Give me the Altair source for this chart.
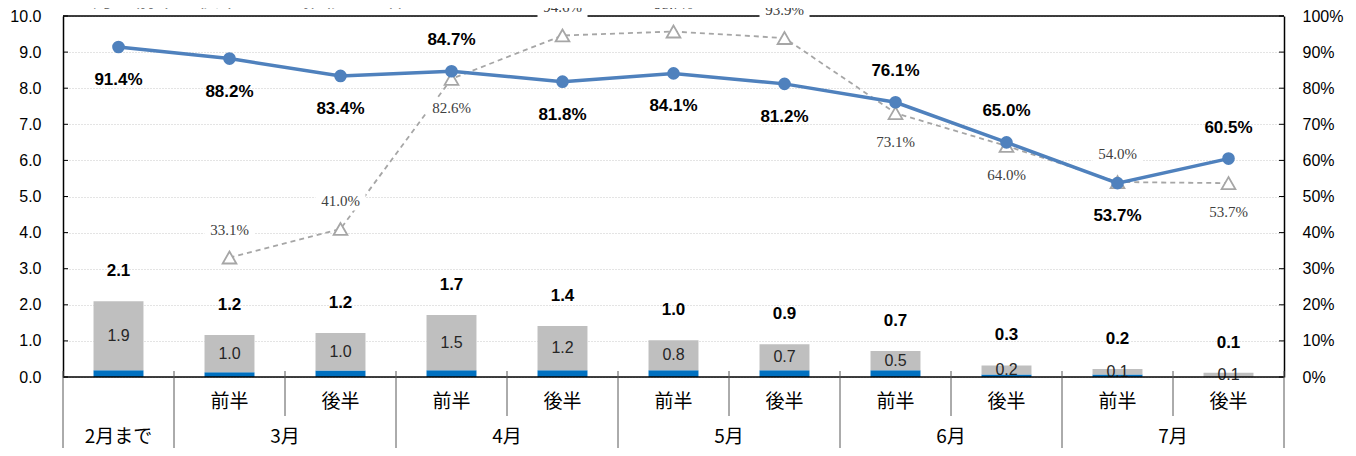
import altair as alt
import pandas as pd

# ---------------- data ----------------
categories = ["", "前半", "後半", "前半", "後半", "前半", "後半", "前半", "後半", "前半", "後半"]
months = ["2月まで", "3月", "3月", "4月", "4月", "5月", "5月", "6月", "6月", "7月", "7月"]
blue_bar = [0.19, 0.13, 0.18, 0.19, 0.19, 0.19, 0.19, 0.19, 0.07, 0.07, 0.0]
grey_bar = [1.91, 1.03, 1.04, 1.53, 1.22, 0.83, 0.72, 0.53, 0.25, 0.15, 0.12]
grey_labels = [1.9, 1.0, 1.0, 1.5, 1.2, 0.8, 0.7, 0.5, 0.2, 0.1, 0.1]
total_labels = [2.1, 1.2, 1.2, 1.7, 1.4, 1.0, 0.9, 0.7, 0.3, 0.2, 0.1]
blue_pct = [91.4, 88.2, 83.4, 84.7, 81.8, 84.1, 81.2, 76.1, 65.0, 53.7, 60.5]
blue_side = ["below", "below", "below", "above", "below", "below", "below", "above", "above", "below", "above"]
grey_pct = [None, 33.1, 41.0, 82.6, 94.6, 95.7, 93.9, 73.1, 64.0, 54.0, 53.7]
grey_side = [None, "above", "above", "below", "above", "above", "above", "below", "below", "above", "below"]
left_ticks = [0, 1, 2, 3, 4, 5, 6, 7, 8, 9, 10]
right_ticks = [0, 10, 20, 30, 40, 50, 60, 70, 80, 90, 100]
title_text = "＜月の前半・後半ごとの推移・全体＞"

# ---------------- layout ----------------
W, H = 1221, 361
BOT = H + 71
SHORT = H + 39
NUM_FONT = "Liberation Sans"
JP_FONT = "Noto Sans CJK JP"

n = len(categories)
idx = list(range(n))
df = pd.DataFrame({"i": idx, "cat": categories, "month": months,
                   "blue": blue_bar, "grey": grey_bar,
                   "gl": grey_labels, "tl": total_labels})
bdf = pd.DataFrame({"i": idx, "pct": blue_pct, "side": blue_side})
gdf = pd.DataFrame({"i": idx[1:], "pct": grey_pct[1:], "side": grey_side[1:]})
tick_df = pd.DataFrame({"v": left_ticks})

long_pos = [-0.5] + [i + 0.5 for i in range(n - 1) if months[i] != months[i + 1]] + [n - 0.5]
short_pos = [i + 0.5 for i in range(n - 1) if months[i] == months[i + 1]]
long_df = pd.DataFrame({"p": long_pos})
short_df = pd.DataFrame({"p": short_pos})
title_df = pd.DataFrame({"t": [title_text]})

xs = alt.Scale(domain=[-0.5, n - 0.5], nice=False, zero=False)


def X(f):
    return alt.X(f"{f}:Q", scale=xs, axis=None)


yL = alt.Scale(domain=[0, 10], nice=False, zero=True)
yR = alt.Scale(domain=[0, 100], nice=False, zero=True)

axis_left = alt.Axis(values=left_ticks, format=".1f", grid=True, gridDash=[1, 2],
                     gridColor="#c8c8c8", gridWidth=1, domainColor="#000000",
                     domainWidth=1.5, ticks=False, labelPadding=22, labelFont=NUM_FONT,
                     labelFontSize=16, labelColor="#000000", title=None)
axis_right = alt.Axis(orient="right", values=right_ticks, labelExpr="datum.value + '%'",
                      grid=False, domainColor="#000000", domainWidth=1.5, ticks=False,
                      labelPadding=18, labelFont=NUM_FONT, labelFontSize=16,
                      labelColor="#000000", title=None)


def YL(f):
    return alt.Y(f"{f}:Q", scale=yL, axis=axis_left)


def YR(f):
    return alt.Y(f"{f}:Q", scale=yR, axis=axis_right)


base = alt.Chart(df).transform_calculate(
    x1="datum.i - 0.225", x2="datum.i + 0.225", zero="0",
    gtop="datum.blue + datum.grey", gmid="datum.blue + datum.grey / 2")

blue_bars = base.mark_bar(color="#0070c0").encode(
    x=X("x1"), x2="x2:Q", y=YL("blue"), y2="zero:Q")
grey_bars = base.mark_bar(color="#bfbfbf").encode(
    x=X("x1"), x2="x2:Q", y=YL("gtop"), y2="blue:Q")
grey_text = base.mark_text(font=NUM_FONT, fontSize=16, color="#262626", baseline="middle").encode(
    x=X("i"), y=YL("gmid"), text=alt.Text("gl:Q", format=".1f"))
total_text = base.mark_text(font=NUM_FONT, fontSize=17, fontWeight="bold", color="#000000",
                            baseline="middle", dy=-30).encode(
    x=X("i"), y=YL("gtop"), text=alt.Text("tl:Q", format=".1f"))

ticks_l = alt.Chart(tick_df).mark_rule(color="#000000", strokeWidth=1).encode(
    y=YL("v"), x=alt.value(0), x2=alt.value(5))
ticks_r = alt.Chart(tick_df).mark_rule(color="#000000", strokeWidth=1).encode(
    y=YL("v"), x=alt.value(W - 5), x2=alt.value(W))

top_border = alt.Chart(title_df).mark_rule(color="#000000", strokeWidth=1.5).encode(
    x=alt.value(0), x2=alt.value(W), y=alt.value(0))
x_line = alt.Chart(title_df).mark_rule(color="#000000", strokeWidth=1.5).encode(
    x=alt.value(0), x2=alt.value(W), y=alt.value(H))

long_rules = alt.Chart(long_df).mark_rule(color="#595959", strokeWidth=1).encode(
    x=X("p"), y=alt.value(H - 6), y2=alt.value(BOT))
short_rules = alt.Chart(short_df).mark_rule(color="#595959", strokeWidth=1).encode(
    x=X("p"), y=alt.value(H - 6), y2=alt.value(SHORT))

cat_text = alt.Chart(df).mark_text(font=JP_FONT, fontSize=19, color="#000000", baseline="middle").encode(
    x=X("i"), y=alt.value(H + 25), text="cat:N")
month_text = alt.Chart(df).transform_aggregate(
    mx="mean(i)", groupby=["month"]).mark_text(
    font=JP_FONT, fontSize=19, color="#000000", baseline="middle").encode(
    x=X("mx"), y=alt.value(H + 60), text="month:N")
title_mark = alt.Chart(title_df).mark_text(font=JP_FONT, fontSize=21, color="#000000",
                                           align="left", baseline="middle").encode(
    x=alt.value(9), y=alt.value(-16), text="t:N")

left_group = alt.layer(blue_bars, grey_bars, grey_text, total_text, ticks_l, ticks_r,
                       top_border, x_line, long_rules, short_rules, cat_text, month_text,
                       title_mark)

# ---------------- right-axis series ----------------
bbase = alt.Chart(bdf).transform_calculate(lbl="format(datum.pct, '.1f') + '%'")
gbase = alt.Chart(gdf).transform_calculate(lbl="format(datum.pct, '.1f') + '%'")

grey_line = gbase.mark_line(color="#a6a6a6", strokeWidth=1.8, strokeDash=[5, 4]).encode(
    x=X("i"), y=YR("pct"))
grey_pts = gbase.mark_point(shape="triangle-up", size=190, filled=True, fill="#ffffff",
                            stroke="#a6a6a6", strokeWidth=1.8, opacity=1).encode(
    x=X("i"), y=YR("pct"))
blue_line = bbase.mark_line(color="#4f81bd", strokeWidth=3.5).encode(
    x=X("i"), y=YR("pct"))
blue_pts = bbase.mark_circle(size=160, color="#4f81bd", opacity=1).encode(
    x=X("i"), y=YR("pct"))

BOX = "M-1,-0.38L1,-0.38L1,0.38L-1,0.38Z"
grey_layers = []
for side, off in (("above", -28), ("below", 29)):
    sub = gbase.transform_filter(alt.datum.side == side)
    grey_layers.append(sub.mark_point(shape=BOX, size=2500, filled=True, color="#ffffff",
                                      opacity=1, strokeWidth=0, yOffset=off).encode(
        x=X("i"), y=YR("pct")))
    grey_layers.append(sub.mark_text(font="Liberation Serif", fontSize=15, color="#404040",
                                     baseline="middle", dy=off).encode(
        x=X("i"), y=YR("pct"), text="lbl:N"))

blue_layers = []
for side, off in (("above", -31), ("below", 33)):
    sub = bbase.transform_filter(alt.datum.side == side)
    blue_layers.append(sub.mark_text(font=NUM_FONT, fontSize=17, fontWeight="bold",
                                     color="#000000", baseline="middle", dy=off).encode(
        x=X("i"), y=YR("pct"), text="lbl:N"))

right_group = alt.layer(grey_line, grey_pts, blue_line, blue_pts, *grey_layers, *blue_layers)

chart = alt.layer(left_group, right_group).resolve_scale(y="independent").properties(
    width=W, height=H,
    autosize=alt.AutoSizeParams(type="none"),
    padding={"left": 55, "top": 8, "right": 64, "bottom": 71},
).configure_view(stroke=None)

chart.save("out.html", embed_options={"renderer": "svg", "actions": False})
